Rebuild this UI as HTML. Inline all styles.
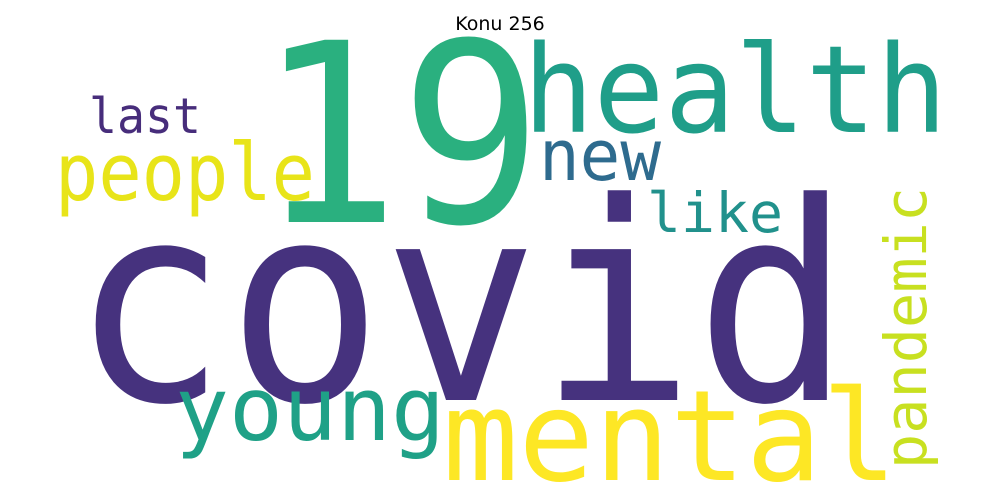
<!DOCTYPE html>
<html><head><meta charset="utf-8"><style>
body{margin:0;background:#fff}
svg{display:block}
text.w{font-family:"DejaVu Sans Mono","Liberation Mono",monospace;text-anchor:middle}
</style></head><body>
<svg width="1000" height="500">
<rect width="1000" height="500" fill="#fff"/>
<text x="500" y="30" font-family="DejaVu Sans, Liberation Sans, sans-serif" font-size="19" text-anchor="middle" fill="#000">Konu 256</text>
<text class="w" x="461" y="400" font-size="276" textLength="780" lengthAdjust="spacingAndGlyphs" fill="#46327e">covid</text>
<text class="w" x="400" y="222" font-size="250" textLength="285" lengthAdjust="spacingAndGlyphs" fill="#2ab07f">19</text>
<text class="w" x="735" y="132" font-size="121" textLength="424" lengthAdjust="spacingAndGlyphs" fill="#1f9e89">health</text>
<text class="w" x="145" y="133" font-size="49" textLength="112" lengthAdjust="spacingAndGlyphs" fill="#472d7b">last</text>
<text class="w" x="185" y="200" font-size="79" textLength="260" lengthAdjust="spacingAndGlyphs" fill="#e8e419">people</text>
<text class="w" x="600" y="180" font-size="70" textLength="122" lengthAdjust="spacingAndGlyphs" fill="#2e6b8e">new</text>
<text class="w" x="715" y="232" font-size="55" textLength="136" lengthAdjust="spacingAndGlyphs" fill="#21918c">like</text>
<text class="w" x="0" y="0" font-size="58" textLength="282" lengthAdjust="spacingAndGlyphs" fill="#c8e020" transform="translate(926,328) rotate(-90)">pandemic</text>
<text class="w" x="310" y="440" font-size="88" textLength="270" lengthAdjust="spacingAndGlyphs" fill="#1fa187">young</text>
<text class="w" x="670" y="480" font-size="126" textLength="455" lengthAdjust="spacingAndGlyphs" fill="#fde725">mental</text>
</svg>
</body></html>
